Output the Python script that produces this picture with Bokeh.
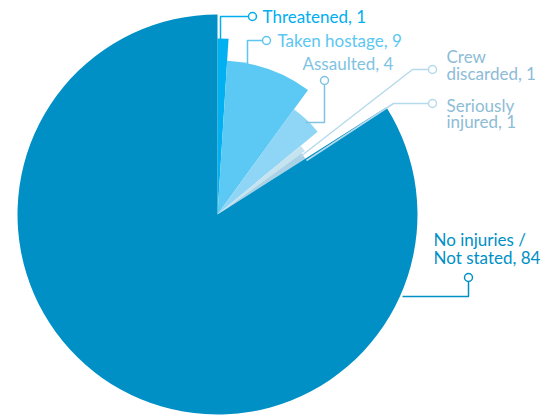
import math
from bokeh.plotting import figure
from bokeh.models import Range1d
from bokeh.core.properties import value
from bokeh.embed import file_html
from bokeh.resources import INLINE

# ---- data ----
categories = ["Threatened", "Taken hostage", "Assaulted", "Crew discarded",
              "Seriously injured", "No injuries / Not stated"]
counts = [1, 9, 4, 1, 1, 84]

# ---- styles ----
colors = ["#00b0f0", "#5cc8f4", "#8fd6f6", "#c6e3f0", "#a9d2e6", "#0090c6"]
text_colors = ["#00aeef", "#5cc6f2", "#7fc3e3", "#8dbcd6", "#8dbcd6", "#0090c6"]
line_colors = ["#00aeef", "#5cc6f2", "#7fc3e3", "#b5daec", "#b5daec", "#0090c6"]
radii = [176, 154, 130, 108, 104, 200]

W, H = 554, 416
cx, cy = 217, H - 214

p = figure(width=W, height=H, output_backend="svg", toolbar_location=None,
           x_range=Range1d(0, W), y_range=Range1d(0, H), min_border=0)
p.axis.visible = False
p.grid.visible = False
p.outline_line_color = None
p.background_fill_color = "white"

total = sum(counts)
cum = 0.0
for c, col, r in zip(counts, colors, radii):
    a0 = cum / total * 2 * math.pi
    cum += c
    a1 = cum / total * 2 * math.pi
    p.wedge(x=cx, y=cy, radius=r, start_angle=math.pi / 2 - a0,
            end_angle=math.pi / 2 - a1, direction="clock",
            fill_color=col, line_color=None)

def Y(v):
    return H - v

# leader lines (pixel coords, y from top)
leaders = [
    [(220, 40), (220, 16), (252, 16)],
    [(247, 64), (247, 40), (266, 40)],
    [(305, 122), (324, 122), (324, 80)],
    [(300, 156), (412, 69), (432, 69)],
    [(306, 160), (393, 103), (432, 103)],
    [(402, 296), (468, 296), (468, 277)],
]
for pts, lc in zip(leaders, line_colors):
    p.line([q[0] for q in pts], [Y(q[1]) for q in pts], line_color=lc, line_width=1.5)
    ex, ey = pts[-1]
    p.scatter([ex], [Y(ey)], size=8, marker="circle", fill_color="white",
              line_color=lc, line_width=1.5)

labels = [
    [f"{categories[0]}, {counts[0]}"],
    [f"{categories[1]}, {counts[1]}"],
    [f"{categories[2]}, {counts[2]}"],
    ["Crew", f"discarded, {counts[3]}"],
    ["Seriously", f"injured, {counts[4]}"],
    ["No injuries /", f"Not stated, {counts[5]}"],
]
label_pos = [
    (262, [16]),
    (277, [40]),
    (302, [63]),
    (446, [56, 73]),
    (446, [105, 121]),
    (433, [239, 257]),
]
for lines, (lx, ys), tc in zip(labels, label_pos, text_colors):
    p.text(x=[lx] * len(lines), y=[Y(v) for v in ys], text=lines,
           text_font=value("Lato"), text_font_size="17px",
           text_color=tc, text_baseline="middle", text_align="left")

open("out.html", "w").write(file_html(p, INLINE))
